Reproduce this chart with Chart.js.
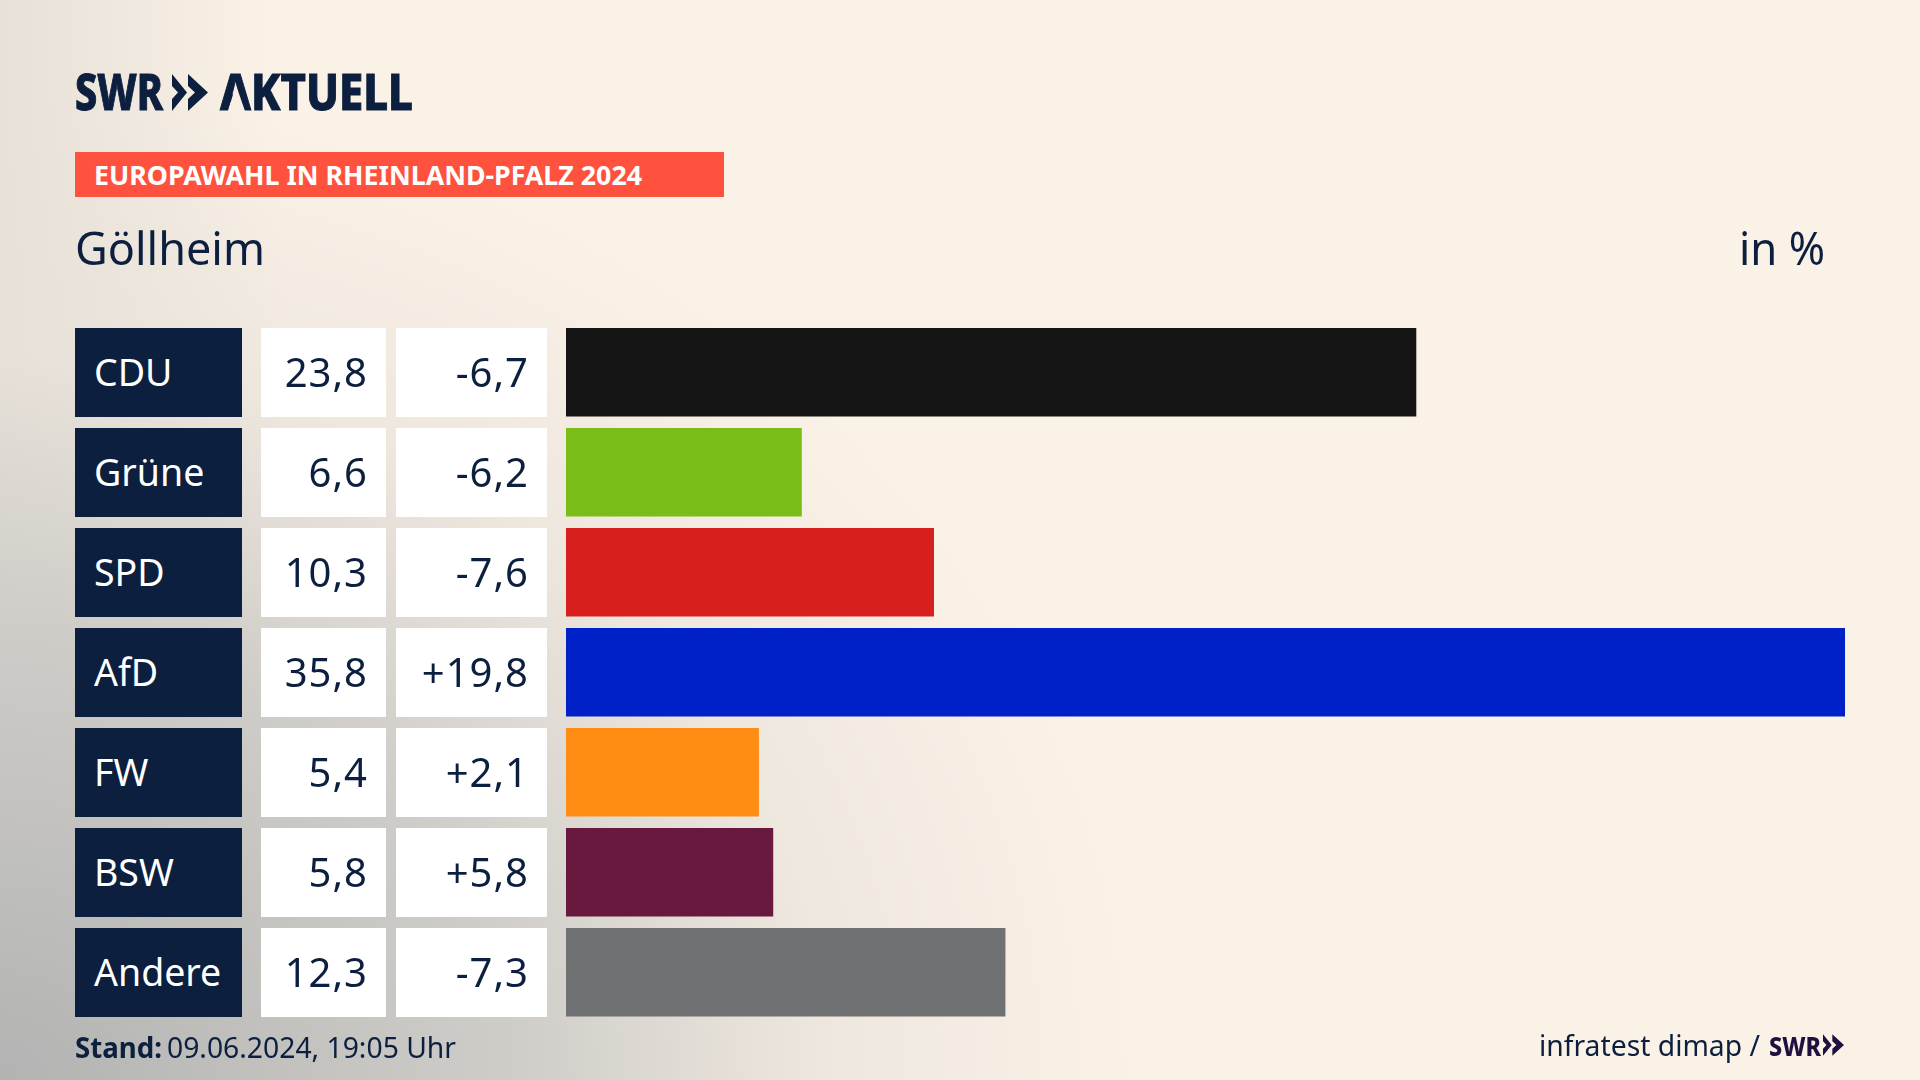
<!DOCTYPE html>
<html lang="de">
<head>
<meta charset="utf-8">
<title>Europawahl Göllheim</title>
<script src="https://cdn.jsdelivr.net/npm/chart.js@4"></script>
<style>
  html, body { margin: 0; padding: 0; }
  body {
    width: 1920px; height: 1080px; overflow: hidden; position: relative;
    font-family: "Noto Sans", sans-serif; color: #0c1f3f;
    background:
      radial-gradient(ellipse 1150px 1000px at 0 1080px, rgba(178,179,178,1) 0, rgba(205,203,199,.95) 45%, rgba(230,224,216,.6) 72%, rgba(251,242,231,0) 100%),
      linear-gradient(90deg, rgba(222,217,209,.7) 0, rgba(251,242,231,0) 280px),
      #fbf2e7;
  }
  canvas { position: absolute; left: 0; top: 0; }
  .txt { position: absolute; white-space: nowrap; line-height: 1; transform-origin: 0 50%; }
  .logo { font-size: 50px; font-weight: 800; -webkit-text-stroke: 1px #0c1f3f; }
  .cell { position: absolute; height: 88.5px; }
  .cell span { position: absolute; top: 50%; transform: translateY(-50.5%); line-height: 1; white-space: nowrap; }
  .party { left: 75px; width: 167px; background: #0c1f3f; color: #fff; }
  .party span { left: 19px; font-size: 37.5px; transform: translateY(-51.5%); }
  .result { left: 261px; width: 125px; background: #fff; }
  .change { left: 396px; width: 151px; background: #fff; }
  .result span, .change span { right: 18px; font-size: 40px; letter-spacing: 1px; }
  #banner { position: absolute; left: 75px; top: 152px; width: 649px; height: 45px; background: #ff523e; }
  #aCut { position: absolute; left: 220px; top: 70px; width: 40px; height: 44px; background: #f9f0e5; clip-path: polygon(16px 15px, 26px 44px, 7px 44px); }
  svg { position: absolute; }
</style>
</head>
<body>
<canvas id="chart" width="1920" height="1080"></canvas>

<div class="txt logo" id="logoSwr" style="left:75px;top:66px">SWR</div>
<svg style="left:172px;top:74px" width="36" height="37" viewBox="0 0 36 37" fill="#0c1f3f">
  <polygon points="0,0 15,18.5 0,37 0,25 6,18.5 0,12"/>
  <polygon points="16,0 36,18.5 16,37 16,25 23,18.5 16,12"/>
</svg>
<div class="txt logo" id="logoAktuell" style="left:220px;top:66px">AKTUELL</div>
<div id="aCut"></div>

<div id="banner"></div>
<div class="txt" id="bannerText" style="left:94px;top:161px;font-size:27px;font-weight:700;color:#fff">EUROPAWAHL IN RHEINLAND-PFALZ 2024</div>

<div class="txt" id="place" style="left:75px;top:225px;font-size:45px">Göllheim</div>
<div class="txt" id="unit" style="left:1739px;top:225px;font-size:45px">in %</div>

<div class="txt" id="standLabel" style="left:75px;top:1032px;font-size:29px;font-weight:700">Stand:</div>
<div class="txt" id="standDate" style="left:167px;top:1032px;font-size:29px">09.06.2024, 19:05 Uhr</div>
<div class="txt" id="source" style="left:1539px;top:1030px;font-size:29px">infratest dimap /</div>
<div class="txt" id="sourceSwr" style="left:1769px;top:1033px;font-size:26px;font-weight:800;color:#1f1040">SWR</div>
<svg style="left:1823px;top:1034px" width="21" height="22" viewBox="0 0 36 37" fill="#1f1040">
  <polygon points="0,0 15,18.5 0,37 0,25 6,18.5 0,12"/>
  <polygon points="16,0 36,18.5 16,37 16,25 23,18.5 16,12"/>
</svg>

<script>
const parties = ['CDU', 'Grüne', 'SPD', 'AfD', 'FW', 'BSW', 'Andere'];
const results = [23.8, 6.6, 10.3, 35.8, 5.4, 5.8, 12.3];
const changes = [-6.7, -6.2, -7.6, 19.8, 2.1, 5.8, -7.3];
const colors = ['#141414', '#7abd19', '#d71f1d', '#0020c8', '#ff8d14', '#69193e', '#707173'];

function deNum(v, sign) {
  const s = Math.abs(v).toFixed(1).replace('.', ',');
  if (v < 0) return '-' + s;
  return (sign ? '+' : '') + s;
}

const chart = new Chart(document.getElementById('chart'), {
  type: 'bar',
  data: {
    labels: parties,
    datasets: [{
      data: results,
      backgroundColor: colors,
      barPercentage: 0.885,
      categoryPercentage: 1
    }]
  },
  options: {
    indexAxis: 'y',
    responsive: false,
    animation: false,
    devicePixelRatio: 1,
    layout: { padding: { left: 566, right: 75, top: 322.25, bottom: 57.75 } },
    scales: {
      x: { display: false, min: 0, max: 35.8 },
      y: { display: false }
    },
    plugins: { legend: { display: false }, tooltip: { enabled: false } }
  }
});

// Tabellenzellen links an den Zeilen der y-Achse ausrichten
parties.forEach((p, i) => {
  const mid = chart.scales.y.getPixelForValue(i);
  [['party', p], ['result', deNum(results[i])], ['change', deNum(changes[i], true)]].forEach(([cls, text]) => {
    const div = document.createElement('div');
    div.className = 'cell ' + cls;
    div.style.top = (mid - 44.25) + 'px';
    const span = document.createElement('span');
    span.textContent = text;
    div.appendChild(span);
    document.body.appendChild(div);
  });
});

// Schrift auf die Breite im Original stauchen
const widths = { logoSwr: 88, logoAktuell: 193, bannerText: 548, place: 190, unit: 86, standLabel: 87, standDate: 289, source: 221, sourceSwr: 52 };
Object.keys(widths).forEach(id => {
  const el = document.getElementById(id);
  el.style.transform = 'scaleX(' + (widths[id] / el.getBoundingClientRect().width) + ')';
});
</script>
</body>
</html>
